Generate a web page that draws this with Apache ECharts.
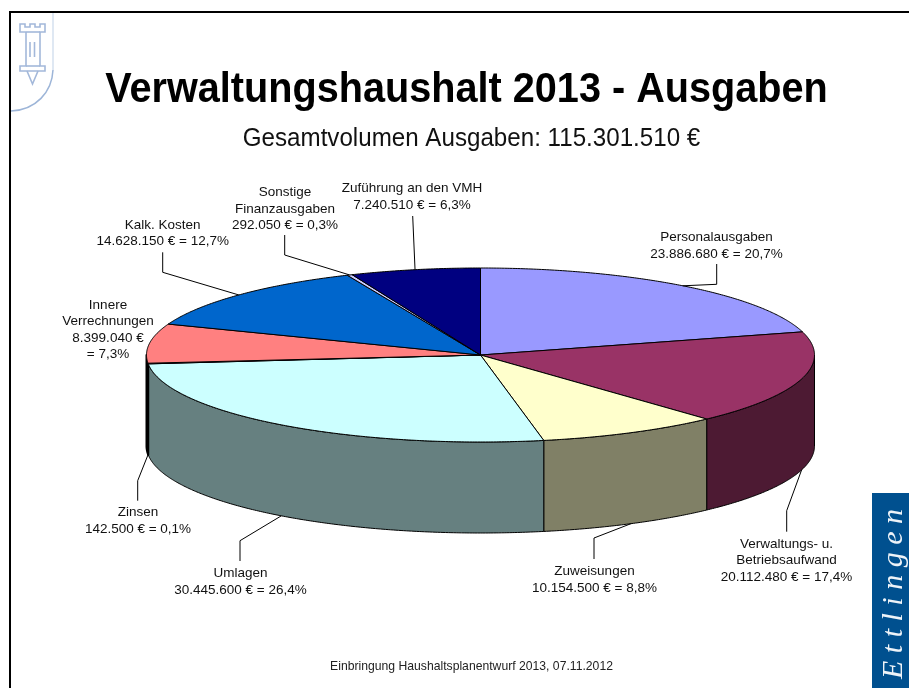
<!DOCTYPE html>
<html><head><meta charset="utf-8">
<style>html,body{margin:0;padding:0;background:#fff}#c{width:909px;height:688px}</style>
<script src="https://cdn.jsdelivr.net/npm/echarts@6/dist/echarts.min.js"></script>
</head><body><div id="c"></div>
<script>
const titleText = 'Verwaltungshaushalt 2013 - Ausgaben';
const subtitleText = 'Gesamtvolumen Ausgaben: 115.301.510 €';
const footerText = 'Einbringung Haushaltsplanentwurf 2013, 07.11.2012';
const brandText = 'E t t l i n g e n';
const categories = ['Personalausgaben','Verwaltungs- u.\nBetriebsaufwand','Zuweisungen','Umlagen','Zinsen','Innere\nVerrechnungen','Kalk. Kosten','Sonstige\nFinanzausgaben','Zuführung an den VMH'];
const values = [23886680,20112480,10154500,30445600,142500,8399040,14628150,292050,7240510];
const sliceColors = ['#9999FF','#993366','#FFFFCC','#CCFFFF','#660066','#FF8080','#0066CC','#CCCCFF','#000080'];

// pie geometry (centre, radii, wall height)
const G = {cx:480.5, cy:355, rx:334, ry:87, depth:91};
// label placement: x = centre, y = block centre, path = elbow / end of the leader
const labelLayout = [
 {x:716.5,y:246,  path:[[716.7,284.3],[716.7,264]]},
 {x:786.5,y:560.3,path:[[786.7,510.7],[786.7,531.7]]},
 {x:594.5,y:580,  path:[[594,538],[594,559]]},
 {x:240.5,y:581.6,path:[[240,540.7],[240,561]]},
 {x:138,  y:521,  path:[[137.7,480.7],[137.7,500.7]]},
 {x:108,  y:330,  wrap:true},
 {x:162.7,y:233.5,path:[[162.7,272.3],[162.7,252.3]]},
 {x:285,  y:209,  path:[[284.7,255],[284.7,235]]},
 {x:412,  y:197,  path:[[412.7,216]]}
];
const total = values.reduce((a,b)=>a+b,0);
const starts = []; values.reduce((a,v,i)=>{starts[i]=a;return a+v;},0);
const ang = v => v/total*Math.PI*2;
const pt = (t,dy) => [G.cx+G.rx*Math.sin(t), G.cy-G.ry*Math.cos(t)+(dy||0)];
function arc(a,b,dy){const n=Math.max(2,Math.ceil(Math.abs(b-a)/0.008));const o=[];for(let i=0;i<=n;i++)o.push(pt(a+(b-a)*i/n,dy));return o;}
function shade(hex){const n=parseInt(hex.slice(1),16);const h=x=>Math.round(x/2).toString(16).padStart(2,'0');return '#'+h(n>>16&255)+h(n>>8&255)+h(n&255);}
const fmtEuro = v => String(v).replace(/\B(?=(\d{3})+(?!\d))/g,'.')+' €';
const fmtPct = v => (v/total*100).toFixed(1).replace('.',',')+'%';

function wallItem(params,api){
  const i=params.dataIndex, a=ang(starts[i]), b=a+ang(api.value(0));
  const lo=Math.max(a,Math.PI/2), hi=Math.min(b,Math.PI*1.5);
  if(hi<=lo) return null;
  const narrow=Math.abs(pt(hi)[0]-pt(lo)[0])<4;
  return {type:'polygon',shape:{points:arc(lo,hi,0).concat(arc(hi,lo,G.depth))},
    style:{fill:shade(sliceColors[i]),stroke:'#000',lineWidth:narrow?2:1,lineJoin:'round'}};
}
function topItem(params,api){
  const i=params.dataIndex, a=ang(starts[i]), b=a+ang(api.value(0));
  return {type:'polygon',shape:{points:[[G.cx,G.cy]].concat(arc(a,b,0))},
    style:{fill:sliceColors[i],stroke:'#000',lineWidth:1,lineJoin:'round'}};
}
function labelItem(params,api){
  const i=params.dataIndex, v=api.value(0), L=labelLayout[i], kids=[];
  const mid=ang(starts[i])+ang(v)/2, front=Math.cos(mid)<0;
  if(L.path){kids.push({type:'polyline',shape:{points:[pt(mid,front?G.depth:0)].concat(L.path)},
    style:{fill:null,stroke:'#000',lineWidth:1}});}
  kids.push({type:'text',style:{x:L.x,y:L.y,align:'center',verticalAlign:'middle',
    text:categories[i]+'\n'+fmtEuro(v)+(L.wrap?'\n= ':' = ')+fmtPct(v),
    font:'13.5px "Liberation Sans",Arial,sans-serif',lineHeight:16.5,fill:'#111'}});
  return {type:'group',children:kids};
}
const seriesData = values.map((v,i)=>({name:categories[i].replace('\n',' '),value:v}));
const towerColor = '#A3B8DA';
const towerLine = pts => ({type:'polyline',silent:true,z:1,shape:{points:pts},style:{fill:null,stroke:towerColor,lineWidth:1.6}});
const chart = echarts.init(document.getElementById('c'),null,{renderer:'canvas'});
chart.setOption({
  animation:false,
  backgroundColor:'#fff',
  tooltip:{show:false},
  series:[
    {type:'custom',name:'Wand',coordinateSystem:'none',silent:true,z:2,renderItem:wallItem,data:seriesData},
    {type:'custom',name:'Ausgaben',coordinateSystem:'none',silent:true,z:3,renderItem:topItem,data:seriesData},
    {type:'custom',name:'Beschriftung',coordinateSystem:'none',silent:true,z:4,renderItem:labelItem,data:seriesData}
  ],
  graphic:[
    {type:'text',silent:true,z:8,x:466.5,y:90,scaleX:0.922,style:{text:titleText,align:'center',verticalAlign:'middle',font:'bold 43px "Liberation Sans",Arial,sans-serif',fill:'#000'}},
    {type:'text',silent:true,z:8,x:471.5,y:139,scaleX:0.929,style:{text:subtitleText,align:'center',verticalAlign:'middle',font:'26px "Liberation Sans",Arial,sans-serif',fill:'#111'}},
    {type:'text',silent:true,z:8,x:471.5,y:666.5,scaleX:0.937,style:{text:footerText,align:'center',verticalAlign:'middle',font:'13px "Liberation Sans",Arial,sans-serif',fill:'#222'}},
    {type:'polyline',silent:true,z:10,shape:{points:[[10,688],[10,12],[909,12]]},style:{fill:null,stroke:'#000',lineWidth:2}},
    {type:'line',silent:true,z:1,shape:{x1:53,y1:13,x2:53,y2:70},style:{stroke:'#D5E0EF',lineWidth:1.5}},
    {type:'bezierCurve',silent:true,z:1,shape:{x1:53,y1:70,cpx1:52,cpy1:92,cpx2:36,cpy2:110,x2:11,y2:111},style:{fill:null,stroke:'#9DB5D8',lineWidth:1.5}},
    towerLine([[26,32],[20,32],[20,24],[25,24],[25,27],[30,27],[30,24],[35,24],[35,27],[40,27],[40,24],[45,24],[45,32],[40,32],[40,66],[45,66],[45,71],[20,71],[20,66],[26,66],[26,32]]),
    towerLine([[26,32],[40,32]]),
    towerLine([[26,66],[40,66]]),
    towerLine([[27,71],[32.5,84],[38,71]]),
    towerLine([[30,42],[30,57]]),
    towerLine([[34.5,42],[34.5,57]]),
    {type:'rect',silent:true,z:5,shape:{x:872,y:493,width:37,height:195},style:{fill:'#00508F'}},
    {type:'text',silent:true,z:6,x:894,y:594,rotation:Math.PI/2,style:{text:brandText,align:'center',verticalAlign:'middle',font:'italic 30px "Liberation Serif",serif',fill:'#EEF3F8'}}
  ]
});
</script></body></html>
